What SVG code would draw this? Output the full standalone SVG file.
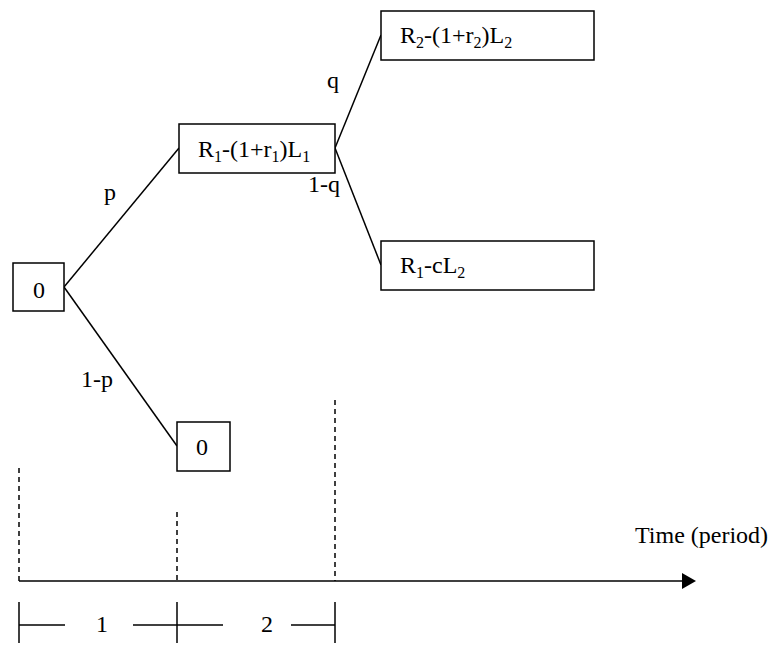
<svg xmlns="http://www.w3.org/2000/svg" width="768" height="645" viewBox="0 0 768 645">
<defs>
<style>
.box{fill:#fff;stroke:#000;stroke-width:1.5}
.ln{stroke:#000;stroke-width:1.5;fill:none}
.dash{stroke:#000;stroke-width:1.5;stroke-dasharray:5,4;fill:none}
text{font-family:"Liberation Serif","Times New Roman",serif;font-size:24px;fill:#000}
.sub{font-size:16px}
</style>
</defs>
<g id="connectors">
<line class="ln" x1="64" y1="287" x2="179" y2="148"/>
<line class="ln" x1="64" y1="287" x2="177" y2="446"/>
<line class="ln" x1="335" y1="148" x2="381" y2="35"/>
<line class="ln" x1="335" y1="148" x2="381" y2="265"/>
<text x="104" y="200">p</text>
<text x="81" y="387">1-p</text>
<text x="327" y="88">q</text>
<text x="308" y="192">1-q</text>
</g>
<g id="n0"><rect class="box" x="13" y="263" width="51" height="48"/><text x="33" y="298">0</text></g>
<g id="n1"><rect class="box" x="179" y="124" width="156" height="49"/><text x="198" y="157">R<tspan class="sub" dy="5">1</tspan><tspan dy="-5">-(1+r</tspan><tspan class="sub" dy="5">1</tspan><tspan dy="-5">)L</tspan><tspan class="sub" dy="5">1</tspan></text></g>
<g id="n2"><rect class="box" x="177" y="422" width="53" height="49"/><text x="196" y="455">0</text></g>
<g id="n3"><rect class="box" x="381" y="11" width="213" height="49"/><text x="400" y="43">R<tspan class="sub" dy="5">2</tspan><tspan dy="-5">-(1+r</tspan><tspan class="sub" dy="5">2</tspan><tspan dy="-5">)L</tspan><tspan class="sub" dy="5">2</tspan></text></g>
<g id="n4"><rect class="box" x="381" y="241" width="213" height="49"/><text x="400" y="273">R<tspan class="sub" dy="5">1</tspan><tspan dy="-5">-cL</tspan><tspan class="sub" dy="5">2</tspan></text></g>
<g id="timeline">
<line class="dash" x1="19" y1="468" x2="19" y2="581"/>
<line class="dash" x1="177" y1="512" x2="177" y2="581"/>
<line class="dash" x1="335" y1="400" x2="335" y2="581"/>
<line class="ln" x1="19" y1="581" x2="684" y2="581"/>
<path d="M682,573 L696,581 L682,589 Z" fill="#000"/>
<text x="635" y="543">Time (period)</text>
<line class="ln" x1="19" y1="602" x2="19" y2="643"/>
<line class="ln" x1="177" y1="602" x2="177" y2="643"/>
<line class="ln" x1="335" y1="602" x2="335" y2="643"/>
<line class="ln" x1="19" y1="625" x2="65" y2="625"/>
<line class="ln" x1="133" y1="625" x2="223" y2="625"/>
<line class="ln" x1="291" y1="625" x2="335" y2="625"/>
<text x="96" y="632">1</text>
<text x="261" y="632">2</text>
</g>
</svg>
